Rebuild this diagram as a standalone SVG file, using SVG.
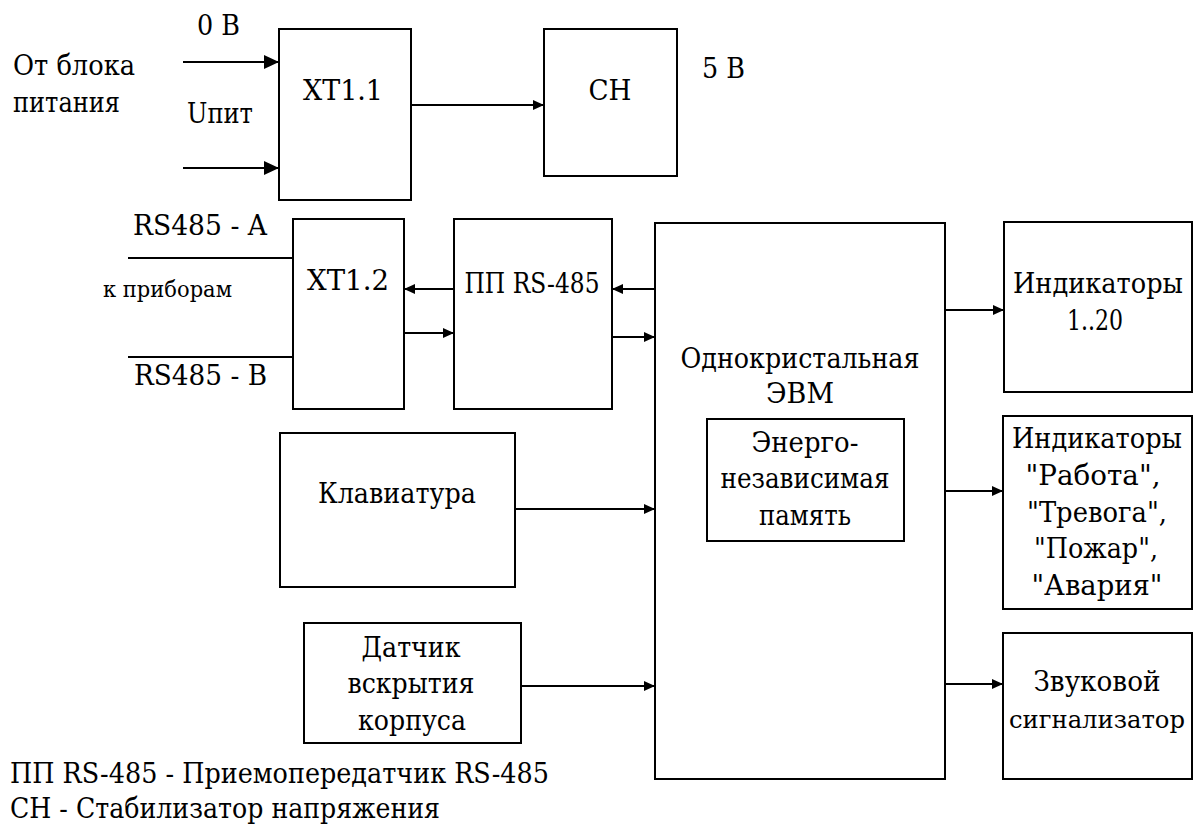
<svg xmlns="http://www.w3.org/2000/svg" width="1193" height="824" viewBox="0 0 1193 824">
<defs>
<style>
.b{fill:#fff;stroke:#000;stroke-width:2}
.m{text-anchor:middle}
.c{stroke:#000;stroke-width:2;fill:none}
.a{marker-end:url(#ah)}
.A{marker-end:url(#AH)}
text{font-family:"DejaVu Serif",serif;font-size:27px;fill:#000}
</style>
<marker id="ah" markerUnits="userSpaceOnUse" markerWidth="12" markerHeight="10" refX="11" refY="5" orient="auto"><path d="M0,0 L11,5 L0,10 Z" fill="#000"/></marker>
<marker id="AH" markerUnits="userSpaceOnUse" markerWidth="16" markerHeight="14" refX="15" refY="7" orient="auto"><path d="M0,0 L15,7 L0,14 Z" fill="#000"/></marker>
</defs>
<rect width="1193" height="824" fill="#fff"/>
<g id="connectors">
<line class="c A" x1="183" y1="62" x2="279" y2="62"/>
<line class="c A" x1="183" y1="168" x2="279" y2="168"/>
<line class="c a" x1="411" y1="105" x2="544" y2="105"/>
<line class="c" x1="128" y1="258" x2="293" y2="258"/>
<line class="c" x1="128" y1="357" x2="293" y2="357"/>
<line class="c a" x1="454" y1="289" x2="404" y2="289"/>
<line class="c a" x1="404" y1="333" x2="454" y2="333"/>
<line class="c a" x1="655" y1="289" x2="612" y2="289"/>
<line class="c a" x1="612" y1="337" x2="655" y2="337"/>
<line class="c a" x1="515" y1="509" x2="655" y2="509"/>
<line class="c a" x1="521" y1="686" x2="655" y2="686"/>
<line class="c a" x1="945" y1="310" x2="1004" y2="310"/>
<line class="c a" x1="945" y1="491" x2="1003" y2="491"/>
<line class="c a" x1="945" y1="684" x2="1003" y2="684"/>
</g>
<g id="labels">
<text x="197" y="35" textLength="43" lengthAdjust="spacingAndGlyphs">0 В</text>
<text x="13" y="75" textLength="122" lengthAdjust="spacingAndGlyphs">От блока</text>
<text x="13" y="112" textLength="107" lengthAdjust="spacingAndGlyphs">питания</text>
<text x="187" y="123" textLength="66" lengthAdjust="spacingAndGlyphs">Uпит</text>
<text x="702" y="78" textLength="43" lengthAdjust="spacingAndGlyphs">5 В</text>
<text x="133" y="235" textLength="134" lengthAdjust="spacingAndGlyphs">RS485 - A</text>
<text x="103" y="297" style="font-size:23px" textLength="129" lengthAdjust="spacingAndGlyphs">к приборам</text>
<text x="134" y="385" textLength="133" lengthAdjust="spacingAndGlyphs">RS485 - B</text>
<text x="10" y="783" textLength="539" lengthAdjust="spacingAndGlyphs">ПП RS-485 - Приемопередатчик RS-485</text>
<text x="10" y="818" textLength="430" lengthAdjust="spacingAndGlyphs">СН - Стабилизатор напряжения</text>
</g>
<g id="xt11"><rect class="b" x="279" y="29" width="132" height="171"/><text class="m" x="343" y="100" textLength="80" lengthAdjust="spacingAndGlyphs">XT1.1</text></g>
<g id="ch"><rect class="b" x="544" y="29" width="133" height="147"/><text class="m" x="610" y="100" textLength="43" lengthAdjust="spacingAndGlyphs">CH</text></g>
<g id="xt12"><rect class="b" x="293" y="219" width="111" height="190"/><text class="m" x="348" y="290" textLength="82" lengthAdjust="spacingAndGlyphs">XT1.2</text></g>
<g id="pp"><rect class="b" x="454" y="219" width="158" height="190"/><text class="m" x="532" y="293" textLength="135" lengthAdjust="spacingAndGlyphs">ПП RS-485</text></g>
<g id="cpu"><rect class="b" x="655" y="223" width="290" height="556"/><text class="m" x="800" y="368" textLength="239" lengthAdjust="spacingAndGlyphs">Однокристальная</text><text class="m" x="800" y="403" textLength="68" lengthAdjust="spacingAndGlyphs">ЭВМ</text></g>
<g id="mem"><rect class="b" x="707" y="419" width="197" height="122"/><text class="m" x="805" y="452" textLength="107" lengthAdjust="spacingAndGlyphs">Энерго-</text><text class="m" x="805" y="488" textLength="169" lengthAdjust="spacingAndGlyphs">независимая</text><text class="m" x="805" y="525" textLength="92" lengthAdjust="spacingAndGlyphs">память</text></g>
<g id="ind1"><rect class="b" x="1004" y="222" width="188" height="170"/><text class="m" x="1098" y="293" textLength="170" lengthAdjust="spacingAndGlyphs">Индикаторы</text><text class="m" x="1095" y="330" textLength="56" lengthAdjust="spacingAndGlyphs">1..20</text></g>
<g id="ind2"><rect class="b" x="1003" y="416" width="189" height="193"/><text class="m" x="1097" y="448" textLength="170" lengthAdjust="spacingAndGlyphs">Индикаторы</text><text class="m" x="1093" y="485" textLength="135" lengthAdjust="spacingAndGlyphs">"Работа",</text><text class="m" x="1097" y="522" textLength="140" lengthAdjust="spacingAndGlyphs">"Тревога",</text><text class="m" x="1096" y="558" textLength="124" lengthAdjust="spacingAndGlyphs">"Пожар",</text><text class="m" x="1097" y="595" textLength="131" lengthAdjust="spacingAndGlyphs">"Авария"</text></g>
<g id="keyboard"><rect class="b" x="280" y="433" width="235" height="154"/><text class="m" x="397" y="503" textLength="158" lengthAdjust="spacingAndGlyphs">Клавиатура</text></g>
<g id="sensor"><rect class="b" x="304" y="623" width="217" height="120"/><text class="m" x="411" y="657" textLength="99" lengthAdjust="spacingAndGlyphs">Датчик</text><text class="m" x="411" y="693" textLength="127" lengthAdjust="spacingAndGlyphs">вскрытия</text><text class="m" x="412" y="730" textLength="108" lengthAdjust="spacingAndGlyphs">корпуса</text></g>
<g id="sound"><rect class="b" x="1003" y="633" width="189" height="146"/><text class="m" x="1097" y="691" textLength="127" lengthAdjust="spacingAndGlyphs">Звуковой</text><text class="m" x="1097" y="728" style="font-size:25px" textLength="176" lengthAdjust="spacingAndGlyphs">сигнализатор</text></g>
</svg>
